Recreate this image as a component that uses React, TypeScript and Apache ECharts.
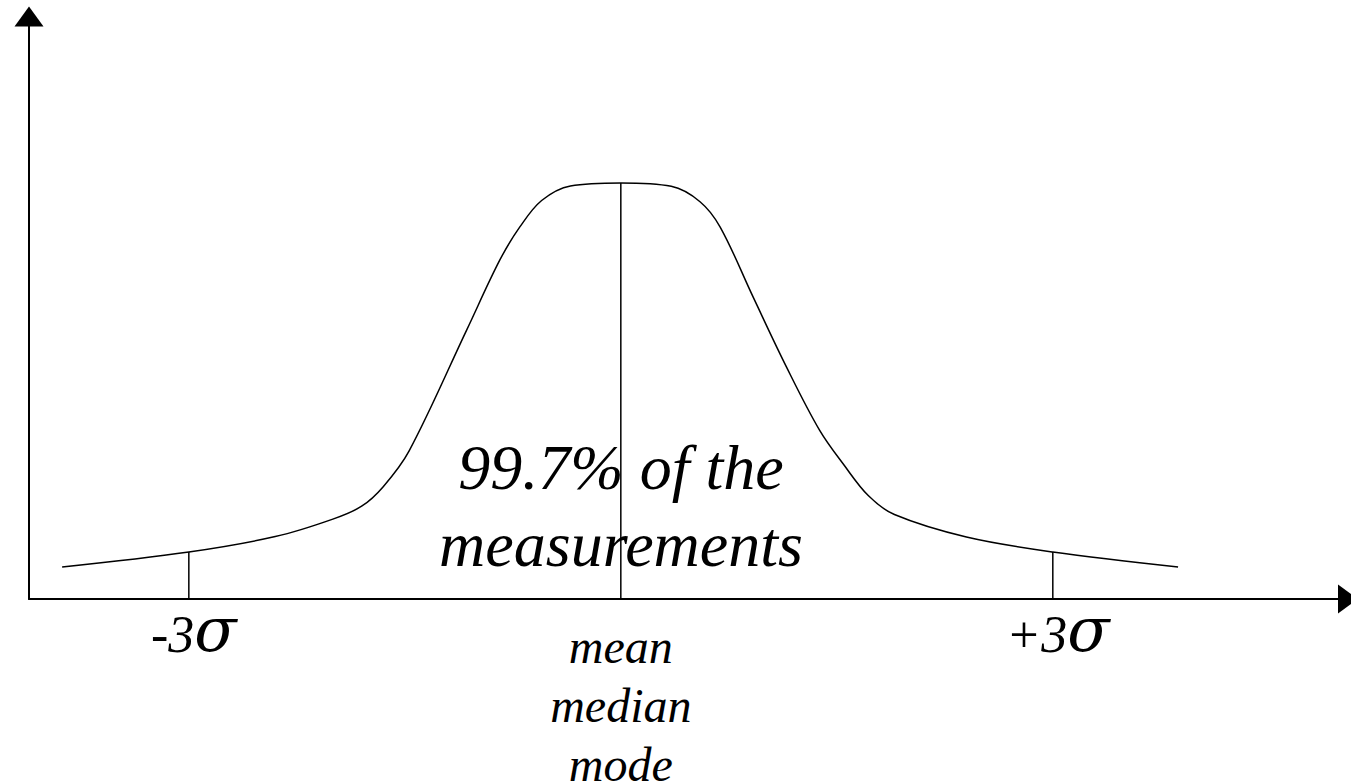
import React, { useEffect, useRef } from "react";
import * as echarts from "echarts";

// Outline of the distribution: x in standard deviations from the mean,
// y as a percentage of the peak height.
const curveX = [
  -3.88, -3.0, -2.4, -2.0, -1.8, -1.65, -1.47, -1.07, -0.84, -0.7, -0.55, -0.35, 0,
  0.35, 0.55, 0.69, 0.92, 1.15, 1.38, 1.55, 1.72, 1.9, 2.4, 3.0, 3.87,
];
const curveY = [
  7.7, 11.3, 15.0, 19.2, 22.3, 27.0, 35.6, 64.7, 81.5, 89.5, 95.8, 99.3, 100,
  99.2, 95.5, 89.4, 72.5, 55.8, 40.6, 32.2, 24.8, 20.3, 14.9, 11.3, 7.7,
];

// Reference positions marked on the axis and their captions.
const markerX = [-3, 0, 3];
const markerLabels = ["-3σ", "mean\nmedian\nmode", "+3σ"];

const note = "99.7% of the\nmeasurements";

const FONT = '"Liberation Serif", "Times New Roman", serif';
const SIGMA_FONT = '"DejaVu Serif", serif';

export default function App() {
  const ref = useRef<HTMLDivElement>(null);

  useEffect(() => {
    if (!ref.current) return;
    const chart = echarts.init(ref.current, undefined, { renderer: "svg" });

    const curve = curveX.map((x, i) => [x, curveY[i]]);
    const heightAt = (x: number) => curveY[curveX.indexOf(x)];

    const markerSeries = markerX.map((x) => ({
      type: "line",
      data: [
        [x, 0],
        [x, heightAt(x)],
      ],
      symbol: "none",
      lineStyle: { color: "#000", width: 1.5 },
      z: 3,
    }));

    const labelFor = (v: number) => {
      const idx = markerX.indexOf(v);
      if (idx < 0) return "";
      const text = markerLabels[idx];
      if (text.includes("σ")) {
        const [num] = text.split("σ");
        return `{n|${num}}{s|σ}`;
      }
      return `{m|${text}}`;
    };

    chart.setOption({
      animation: false,
      backgroundColor: "#ffffff",
      grid: {
        left: 29,
        right: 3,
        top: 16.6,
        bottom: 183,
        containLabel: false,
        outerBoundsMode: "none",
      },
      xAxis: {
        type: "value",
        min: -4.11,
        max: 5.05,
        axisLine: {
          onZero: false,
          symbol: ["none", "triangle"],
          symbolSize: [29, 20],
          lineStyle: { color: "#000", width: 2 },
        },
        axisTick: { show: false },
        splitLine: { show: false },
        axisLabel: {
          customValues: markerX,
          margin: 18,
          hideOverlap: false,
          color: "#000",
          formatter: labelFor,
          rich: {
            n: {
              fontFamily: FONT,
              fontStyle: "italic",
              fontSize: 52,
              lineHeight: 43,
              verticalAlign: "bottom",
              padding: [0, 0, 0, 10],
              color: "#000",
            },
            s: {
              fontFamily: SIGMA_FONT,
              fontStyle: "italic",
              fontSize: 62,
              lineHeight: 43,
              verticalAlign: "bottom",
              color: "#000",
            },
            m: {
              fontFamily: FONT,
              fontStyle: "italic",
              fontSize: 48,
              lineHeight: 59,
              align: "center",
              color: "#000",
            },
          },
        },
      },
      yAxis: {
        type: "value",
        min: 0,
        max: 140,
        axisLine: {
          show: true,
          onZero: false,
          symbol: ["none", "triangle"],
          symbolSize: [29, 20],
          lineStyle: { color: "#000", width: 2 },
        },
        axisTick: { show: false },
        axisLabel: { show: false },
        splitLine: { show: false },
      },
      series: [
        {
          type: "line",
          data: curve,
          symbol: "none",
          smooth: 0.35,
          lineStyle: { color: "#000", width: 1.5 },
          z: 2,
        },
        ...markerSeries,
      ],
      graphic: [
        {
          type: "text",
          x: 621,
          y: 506,
          z: 10,
          style: {
            text: note,
            fontFamily: FONT,
            fontStyle: "italic",
            fontSize: 64,
            lineHeight: 77,
            align: "center",
            verticalAlign: "middle",
            fill: "#000",
          },
        },
      ],
    });

    return () => chart.dispose();
  }, []);

  return (
    <div
      ref={ref}
      style={{ position: "absolute", left: 0, top: 0, width: 1351, height: 782, background: "#fff" }}
    />
  );
}
